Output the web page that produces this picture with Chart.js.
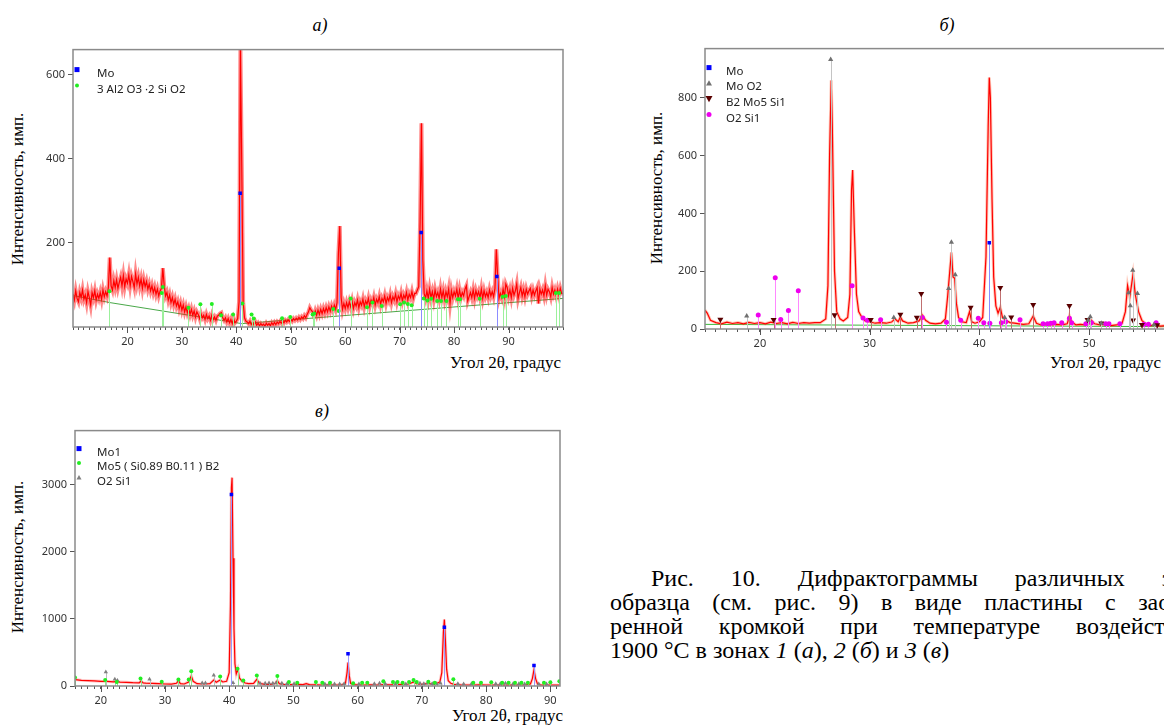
<!DOCTYPE html>
<html lang="ru">
<head>
<meta charset="utf-8">
<title>Дифрактограммы</title>
<script src="https://cdn.jsdelivr.net/npm/chart.js@4.4.1/dist/chart.umd.min.js"></script>
<style>
html, body { margin: 0; padding: 0; width: 1164px; height: 726px; overflow: hidden; background: #fff; }
canvas { position: absolute; }
.lbl { position: absolute; white-space: nowrap; color: #000; font-family: 'Liberation Serif', serif; }
.panel { font-size: 18px; font-style: italic; transform: translate(-50%, -50%); }
.ytitle { font-size: 17px; transform: translate(-50%, -50%) rotate(-90deg); }
.xtitle { font-size: 17px; transform: translate(-100%, -50%); }
.cap { position: absolute; font-family: 'Liberation Serif', serif; font-size: 24px; line-height: 24px; color: #000;
       text-align: justify; text-align-last: justify; }
</style>
</head>
<body>

<div class="lbl panel" style="left:320px; top:25px;">а)</div>
<div class="lbl panel" style="left:947px; top:25px;">б)</div>
<div class="lbl panel" style="left:322px; top:411px;">в)</div>

<div class="lbl ytitle" style="left:18px; top:189px;">Интенсивность, имп.</div>
<div class="lbl ytitle" style="left:657px; top:188px;">Интенсивность, имп.</div>
<div class="lbl ytitle" style="left:18px; top:557px;">Интенсивность, имп.</div>

<div class="lbl xtitle" style="left:561px; top:363px;">Угол 2θ, градус</div>
<div class="lbl xtitle" style="left:1161px; top:363px;">Угол 2θ, градус</div>
<div class="lbl xtitle" style="left:563px; top:716px;">Угол 2θ, градус</div>

<canvas id="chartA"></canvas>
<canvas id="chartB"></canvas>
<canvas id="chartC"></canvas>

<div class="cap" style="left:651px; top:566px; width:545px;">Рис. 10. Дифрактограммы различных зон</div>
<div class="cap" style="left:610px; top:590px; width:590px;">образца (см. рис. 9) в виде пластины с заост-</div>
<div class="cap" style="left:610px; top:614px; width:590px;">ренной кромкой при температуре воздействия</div>
<div class="cap" style="left:610px; top:638px; text-align:left; text-align-last:left;">1900 °C в зонах <i>1</i> (<i>а</i>), <i>2</i> (<i>б</i>) и <i>3</i> (<i>в</i>)</div>

<script>
// ---- а) зона 1 ----
const angleA = [
    10,10.25,10.5,10.75, 11,11.25,11.5,11.75, 12,12.25,12.5,12.75, 13,13.25,13.5,13.75,
    14,14.25,14.5,14.75, 15,15.25,15.5,15.75, 16,16.25,16.5,16.75, 17,17.25,17.5,17.75,
    18,18.25,18.5,18.75, 19,19.25,19.5,19.75, 20,20.25,20.5,20.75, 21,21.25,21.5,21.75,
    22,22.25,22.5,22.75, 23,23.25,23.5,23.75, 24,24.25,24.5,24.75, 25,25.25,25.5,25.75,
    26,26.25,26.5,26.75, 27,27.25,27.5,27.75, 28,28.25,28.5,28.75, 29,29.25,29.5,29.75,
    30,30.25,30.5,30.75, 31,31.25,31.5,31.75, 32,32.25,32.5,32.75, 33,33.25,33.5,33.75,
    34,34.25,34.5,34.75, 35,35.25,35.5,35.75, 36,36.25,36.5,36.75, 37,37.25,37.5,37.75,
    38,38.25,38.5,38.75, 39,39.25,39.5,39.75, 40,40.25,40.5,40.75, 41,41.25,41.5,41.75,
    42,42.25,42.5,42.75, 43,43.25,43.5,43.75, 44,44.25,44.5,44.75, 45,45.25,45.5,45.75,
    46,46.25,46.5,46.75, 47,47.25,47.5,47.75, 48,48.25,48.5,48.75, 49,49.25,49.5,49.75,
    50,50.25,50.5,50.75, 51,51.25,51.5,51.75, 52,52.25,52.5,52.75, 53,53.25,53.5,53.75,
    54,54.25,54.5,54.75, 55,55.25,55.5,55.75, 56,56.25,56.5,56.75, 57,57.25,57.5,57.75,
    58,58.25,58.5,58.75, 59,59.25,59.5,59.75, 60,60.25,60.5,60.75, 61,61.25,61.5,61.75,
    62,62.25,62.5,62.75, 63,63.25,63.5,63.75, 64,64.25,64.5,64.75, 65,65.25,65.5,65.75,
    66,66.25,66.5,66.75, 67,67.25,67.5,67.75, 68,68.25,68.5,68.75, 69,69.25,69.5,69.75,
    70,70.25,70.5,70.75, 71,71.25,71.5,71.75, 72,72.25,72.5,72.75, 73,73.25,73.5,73.75,
    74,74.25,74.5,74.75, 75,75.25,75.5,75.75, 76,76.25,76.5,76.75, 77,77.25,77.5,77.75,
    78,78.25,78.5,78.75, 79,79.25,79.5,79.75, 80,80.25,80.5,80.75, 81,81.25,81.5,81.75,
    82,82.25,82.5,82.75, 83,83.25,83.5,83.75, 84,84.25,84.5,84.75, 85,85.25,85.5,85.75,
    86,86.25,86.5,86.75, 87,87.25,87.5,87.75, 88,88.25,88.5,88.75, 89,89.25,89.5,89.75,
    90,90.25,90.5,90.75, 91,91.25,91.5,91.75, 92,92.25,92.5,92.75, 93,93.25,93.5,93.75,
    94,94.25,94.5,94.75, 95,95.25,95.5,95.75, 96,96.25,96.5,96.75, 97,97.25,97.5,97.75,
    98,98.25,98.5,98.75, 99,99.25,99.5,99.75, 100];
const countsA = [
    78,64,86,68, 60,82,70,88, 66,76,58,84, 70,52,82,70,
    86,64,78,68, 82,66,88,72, 84,74,94,165, 98,88,110,94,
    112,92,106,118, 98,122,96,114, 104,124,98,120, 108,94,126,102,
    118,98,114,92, 112,96,108,90, 102,86,98,82, 94,78,90,74,
    86,92,140,98, 74,82,64,76, 58,70,54,66, 50,60,44,56,
    40,52,36,48, 34,44,30,42, 28,38,24,36, 30,20,32,22,
    28,18,30,20, 26,16,28,18, 24,16,26,28, 32,34,22,16,
    22,12,20,10, 18,8,20,10, 14,20,60,660, 380,60,22,14,
    12,8,14,6, 10,5,12,4, 9,3,8,4, 7,2,9,4,
    8,3,10,5, 11,6,12,8, 13,9,15,10, 16,12,17,13,
    18,14,20,16, 21,17,23,18, 24,20,27,22, 30,36,46,40,
    36,26,38,28, 40,30,42,32, 44,34,46,36, 48,38,50,40,
    52,42,58,175, 240,70,42,56, 44,58,46,60, 48,62,44,58,
    50,64,46,60, 52,66,48,62, 54,68,50,64, 56,70,52,66,
    58,72,54,68, 60,74,56,70, 62,76,58,72, 64,78,60,74,
    66,80,62,76, 68,82,64,78, 70,84,68,80, 80,88,96,250,
    485,160,80,68, 86,68,90,70, 84,66,88,72, 82,68,90,70,
    86,66,84,72, 90,56,86,70, 84,74,90,68, 88,70,82,74,
    90,98,62,72, 82,70,88,68, 86,74,84,70, 90,68,86,72,
    82,70,88,74, 84,72,92,185, 120,68,80,70, 90,72,102,94,
    74,88,70,92, 76,86,102,68, 82,94,74,88, 72,90,78,86,
    92,74,88,76, 86,94,56,90, 78,88,74,98, 76,90,84,72,
    94,78,88,74, 90,76,92,80, 80];
const bgAngleA = [10, 16.8, 41, 100];
const bgCountsA = [75, 58, 8, 68];
const moAngleA = [40.7, 58.9, 73.95, 87.85];
const moCountsA = [318, 140, 225, 120];
const mulAngleA = [16.7,26.3,26.5,31.2,33.4,35.5,37.2,39.4,41.1,42.8,
    43.2,48.4,49.9,54.0,54.3,57.8,58.8,61.0,64.0,65.0,
    66.7,70.1,70.8,71.5,72.2,74.4,75.1,75.8,76.9,77.6,
    78.6,80.7,81.1,84.7,88.9,89.5,98.7,99.3];
const mulCountsA = [85,81,95,46,54,55,28,30,56,30,
    20,21,24,30,32,43,38,68,47,58,
    50,54,58,55,52,68,63,67,62,62,
    62,66,66,67,72,74,81,81];
const yTicksA = [200, 400, 600];

// ---- б) зона 2 ----
const angleB = [15,15.2,15.5,16,16.5,17,17.5,18,18.5,19,
    19.5,20,20.5,21,21.5,22,22.5,23,23.5,24,
    24.5,25,25.5,26,26.2,26.35,26.5,26.6,26.8,27,
    27.3,27.6,28,28.2,28.35,28.45,28.6,28.8,29,29.3,
    29.6,30,30.5,31,31.5,32,32.3,32.6,32.8,33,
    33.5,34,34.5,34.8,35.1,35.5,36,36.5,36.9,37.1,
    37.3,37.45,37.6,37.75,37.9,38.1,38.4,38.8,39.1,39.3,
    39.6,40,40.3,40.6,40.8,40.9,41,41.15,41.3,41.5,
    41.7,41.9,42.1,42.4,42.8,43.2,43.6,44,44.5,44.9,
    45.2,45.6,46,46.5,47,47.5,48,48.2,48.4,48.8,
    49.2,49.6,50,50.2,50.5,51,51.5,52,52.5,53,
    53.3,53.5,53.7,54,54.2,54.5,54.8,55.2,55.6,56,
    56.5,57];
const countsB = [65,55,30,22,18,24,19,22,18,23,
    19,22,18,24,19,22,18,23,19,22,
    20,22,22,35,150,600,860,700,200,60,
    35,28,40,120,480,550,350,120,60,40,
    28,25,20,22,20,24,35,25,42,28,
    20,22,28,48,30,20,18,20,35,110,
    200,265,180,175,90,40,25,22,60,25,
    20,25,40,250,700,870,800,450,180,80,
    55,75,40,30,22,20,18,16,18,45,
    20,14,16,14,16,14,18,45,25,14,
    16,14,18,30,18,14,16,12,14,20,
    60,150,110,190,120,60,30,16,12,14,
    10,12];
const bgAngleB = [15, 57];
const bgCountsB = [16, 8];
const moAngleB = [40.9];
const moCountsB = [298];
const moo2AngleB = [18.8,26.45,32.2,37.2,37.45,37.8,42.3,49.9,50.1,51.1,53.6,53.75,53.97,54.4,55.9];
const moo2CountsB = [45,932,40,140,300,188,40,30,42,20,125,80,203,123,15];
const b2AngleB = [16.4,21.25,26.8,30.1,32.8,34.3,34.7,39.2,41.9,42.9,44.9,48.2,49.85,51.1,54.0,54.8,56.2];
const b2CountsB = [33,32,48,32,50,40,122,74,143,41,84,80,32,20,30,15,14];
const sio2AngleB = [19.85,21.4,21.9,22.6,23.5,28.4,29.4,29.8,31.0,34.8,
    37.0,38.3,39.9,40.4,40.95,42.0,42.4,43.7,45.8,46.2,
    46.5,46.8,47.5,48.2,48.4,49.7,50.2,51.5,51.8,52.8,
    55.0,55.4,56.1];
const sio2CountsB = [48,177,33,64,132,150,38,30,32,40,
    23,30,37,22,20,22,25,32,18,18,
    20,22,22,37,22,18,22,18,18,18,
    16,16,22];
const yTicksB = [0, 200, 400, 600, 800];

// ---- в) зона 3 ----
const angleC = [16,17,18,19,20,21,22,22.5,23,24,
    25,26,26.3,26.6,27,28,29,30,31,31.8,
    32.1,32.4,33,33.7,34.1,34.4,35,36,37,37.6,
    38,38.6,39,39.6,40,40.2,40.35,40.45,40.6,40.75,
    40.9,41.1,41.35,41.6,42,42.5,43,43.8,44.3,44.7,
    45.5,46.5,47.2,47.5,47.8,48.5,49.5,50.5,51.5,52,
    52.5,53.5,54.5,55.5,56.5,57.5,58.1,58.35,58.5,58.7,
    58.9,59.3,60,61,62,63,64,65,66,67,
    68,68.7,69.2,70,71,71.5,72,72.8,73.1,73.35,
    73.5,73.65,73.85,74.1,74.5,75,76,77,78,79,
    80,81,82,83,84,85,86,86.9,87.2,87.45,
    87.7,88,88.5,89,90,91,91.5];
const countsC = [95,85,80,75,70,68,62,70,58,55,
    50,48,75,45,42,40,35,30,28,40,
    80,35,30,60,150,70,35,30,35,90,
    55,90,60,70,200,1200,2950,3100,1900,850,
    330,180,250,120,70,45,35,40,100,40,
    25,25,40,80,35,25,20,25,20,35,
    20,18,15,18,15,18,40,200,350,150,
    40,20,18,15,18,15,22,18,22,25,
    30,60,30,25,40,30,25,60,200,800,
    990,700,250,80,40,25,18,15,15,18,
    15,15,12,15,12,15,15,30,110,240,
    110,30,15,12,15,12,14];
const moAngleC = [40.35, 58.5, 73.5, 87.45];
const moCountsC = [2850, 480, 875, 305];
const mo5AngleC = [16.0,20.7,22.5,26.2,29.5,32.1,33.7,34.1,38.6,41.3,
    42.2,44.3,47.5,49.3,50.6,53.5,54.5,55.7,59.3,60.7,
    61.5,64.0,65.5,66.2,67.0,68.0,68.7,69.2,71.0,72.0,
    74.9,78.0,79.2,80.8,82.5,83.5,84.5,85.5,86.5,89.0,
    90.0,91.4];
const mo5CountsC = [125,90,60,110,65,95,95,220,140,255,
    80,155,150,60,50,60,50,50,40,50,
    50,70,60,60,50,60,90,60,65,50,
    100,50,50,55,50,50,50,50,50,50,
    55,70];
const sio2AngleC = [20.8,22.2,22.6,27.6,35.8,36.3,37.6,40.6,44.8,45.6,
    46.2,46.8,47.3,48.2,49.0,50.1,54.9,55.6,56.4,57.2,
    57.9,60.2,62.6,63.4,64.3,65.9,67.5,69.7,70.3,70.9,
    71.6,72.3,72.9,75.6,76.5,77.7,81.5,82.2,83.0,84.2,
    85.1,86.0,88.2,89.4];
const sio2CountsC = [210,100,80,100,45,45,160,50,40,40,
    45,40,45,40,35,35,30,35,30,30,
    35,30,35,40,35,35,30,40,35,40,
    35,35,40,35,30,30,35,35,40,35,
    35,30,30,30];
const yTicksC = [0, 1000, 2000, 3000];

function pts(xs, ys) {
    return xs.map((x, i) => ({ x: x, y: ys[i] }));
}

const PAD_L = 50, PAD_T = 8, PAD_R = 8, PAD_B = 24;
const tickFont = { family: "'Noto Sans', sans-serif", size: 11 };

function drawMarker(ctx, ds, x, y) {
    const r = ds.pointRadius;
    ctx.fillStyle = ds.pointBackgroundColor;
    ctx.beginPath();
    if (ds.pointStyle === 'rect') {
        ctx.rect(x - r, y - r, 2 * r, 2 * r);
    } else if (ds.pointStyle === 'triangle') {
        const s = ds.pointRotation ? -1 : 1;
        ctx.moveTo(x, y - s * r);
        ctx.lineTo(x + r, y + s * r * 0.8);
        ctx.lineTo(x - r, y + s * r * 0.8);
        ctx.closePath();
    } else {
        ctx.arc(x, y, r, 0, Math.PI * 2);
    }
    ctx.fill();
}

// vertical reference lines under each phase marker
const sticks = {
    id: 'sticks',
    beforeDatasetDraw(chart, args) {
        const ds = chart.data.datasets[args.index];
        if (!ds.stickColor) return;
        const ctx = chart.ctx, a = chart.chartArea;
        const base = chart.scales.y.getPixelForValue(0);
        ctx.save();
        ctx.beginPath();
        ctx.rect(a.left, a.top, a.right - a.left, a.bottom - a.top);
        ctx.clip();
        ctx.strokeStyle = ds.stickColor;
        ctx.lineWidth = 1;
        args.meta.data.forEach(p => {
            const px = Math.round(p.x) + 0.5;
            ctx.beginPath();
            ctx.moveTo(px, base);
            ctx.lineTo(px, p.y);
            ctx.stroke();
        });
        ctx.restore();
    }
};

// frame, long ticks every 10 degrees, phase legend
const frame = {
    id: 'frame',
    afterDraw(chart, args, opts) {
        const ctx = chart.ctx, a = chart.chartArea;
        ctx.save();
        ctx.strokeStyle = '#8a8a8a';
        ctx.lineWidth = 1.5;
        ctx.strokeRect(a.left, a.top, a.right - a.left, a.bottom - a.top);

        const xs = chart.scales.x;
        ctx.strokeStyle = '#555';
        ctx.lineWidth = 1;
        xs.ticks.forEach(t => {
            if (t.value % 10 !== 0 || t.value === xs.min || t.value === xs.max) return;
            const px = Math.round(xs.getPixelForValue(t.value)) + 0.5;
            ctx.beginPath();
            ctx.moveTo(px, a.bottom);
            ctx.lineTo(px, a.bottom + 6);
            ctx.stroke();
        });

        let y = a.top + opts.top;
        ctx.font = "11.5px 'Noto Sans', sans-serif";
        ctx.textBaseline = 'middle';
        chart.data.datasets.forEach(ds => {
            if (!ds.legendText) return;
            drawMarker(ctx, ds, a.left + 4, y - 4);
            ctx.fillStyle = '#222';
            ctx.fillText(ds.legendText, a.left + opts.textX, y);
            y += opts.gap;
        });
        ctx.restore();
    }
};

function makeChart(id, box, setup) {
    const cv = document.getElementById(id);
    cv.style.left = (box.left - PAD_L) + 'px';
    cv.style.top = (box.top - PAD_T) + 'px';
    cv.width = box.right - box.left + PAD_L + PAD_R;
    cv.height = box.bottom - box.top + PAD_T + PAD_B;

    return new Chart(cv.getContext('2d'), {
        type: 'line',
        data: { datasets: setup.datasets },
        plugins: [sticks, frame],
        options: {
            responsive: false,
            animation: false,
            devicePixelRatio: 1,
            events: [],
            layout: { padding: { left: 0, top: PAD_T, right: PAD_R, bottom: 0 } },
            elements: { line: { tension: 0 } },
            plugins: {
                legend: { display: false },
                tooltip: { enabled: false },
                frame: setup.legend
            },
            scales: {
                x: {
                    type: 'linear',
                    bounds: 'data',
                    min: setup.xMin,
                    max: setup.xMax,
                    afterFit: s => { s.height = PAD_B; },
                    border: { display: false },
                    grid: {
                        drawOnChartArea: false,
                        tickLength: 3,
                        tickColor: c => Number.isInteger(c.tick.value) ? '#555' : 'rgba(0,0,0,0)'
                    },
                    ticks: {
                        stepSize: 1,
                        autoSkip: false,
                        includeBounds: false,
                        maxRotation: 0,
                        padding: 5,
                        font: tickFont,
                        color: '#333',
                        callback: (v, i, t) => (v % 10 === 0 && i > 0 && i < t.length - 1) ? v : ''
                    }
                },
                y: {
                    min: 0,
                    max: setup.yMax,
                    afterFit: s => { s.width = PAD_L; },
                    afterBuildTicks: s => { s.ticks = setup.yTicks.map(v => ({ value: v })); },
                    border: { display: false },
                    grid: { drawOnChartArea: false, tickLength: 5, color: '#555' },
                    ticks: {
                        autoSkip: false,
                        padding: 3,
                        font: tickFont,
                        color: '#333',
                        callback: v => v
                    }
                }
            }
        }
    });
}

function phase(label, xs, ys, style, color, size, stick, rot) {
    return {
        legendText: label,
        data: pts(xs, ys),
        showLine: false,
        pointStyle: style,
        pointRadius: size,
        pointRotation: rot || 0,
        pointBackgroundColor: color,
        pointBorderWidth: 0,
        borderColor: color,
        stickColor: stick
    };
}

function profile(xs, ys, band, bandWidth) {
    return [
        { data: pts(xs, ys), borderColor: '#ff0000', borderWidth: 1.2, pointRadius: 0 },
        { data: pts(xs, ys), borderColor: band, borderWidth: bandWidth, pointRadius: 0 }
    ];
}

makeChart('chartA', { left: 73, right: 563, top: 48, bottom: 327 }, {
    xMin: 10, xMax: 100, yMax: 660, yTicks: yTicksA,
    legend: { top: 24, gap: 16, textX: 24 },
    datasets: [
        phase('Mo', moAngleA, moCountsA, 'rect', '#0000ff', 2.5, '#8c8cff'),
        phase('3 Al2 O3 ·2 Si O2', mulAngleA, mulCountsA, 'circle', '#22ee22', 2, '#9cf09c'),
        ...profile(angleA, countsA, 'rgba(255,20,20,0.5)', 4),
        { data: pts(bgAngleA, bgCountsA), borderColor: '#4aa84a', borderWidth: 1, pointRadius: 0 }
    ]
});

makeChart('chartB', { left: 705, right: 1166, top: 47, bottom: 329 }, {
    xMin: 15, xMax: 57, yMax: 970, yTicks: yTicksB,
    legend: { top: 23, gap: 15.6, textX: 21 },
    datasets: [
        phase('Mo', moAngleB, moCountsB, 'rect', '#0000ff', 2.5, '#8c8cff'),
        phase('Mo O2', moo2AngleB, moo2CountsB, 'triangle', '#707070', 3, '#c4c4c4'),
        phase('B2 Mo5 Si1', b2AngleB, b2CountsB, 'triangle', '#5a0000', 3.5, '#c07070', 180),
        phase('O2 Si1', sio2AngleB, sio2CountsB, 'circle', '#ee00ee', 2.5, '#ff88ff'),
        ...profile(angleB, countsB, 'rgba(255,110,70,0.4)', 3),
        { data: pts(bgAngleB, bgCountsB), borderColor: '#3cb83c', borderWidth: 1, pointRadius: 0 }
    ]
});

makeChart('chartC', { left: 75, right: 560, top: 429, bottom: 686 }, {
    xMin: 16, xMax: 91.5, yMax: 3800, yTicks: yTicksC,
    legend: { top: 22, gap: 14.5, textX: 22 },
    datasets: [
        phase('Mo1', moAngleC, moCountsC, 'rect', '#0000ff', 2.5, '#9a9aff'),
        phase('Mo5 ( Si0.89 B0.11 ) B2', mo5AngleC, mo5CountsC, 'circle', '#22ee22', 2, '#90e890'),
        phase('O2 Si1', sio2AngleC, sio2CountsC, 'triangle', '#808080', 2.5, '#bdbdbd'),
        ...profile(angleC, countsC, 'rgba(255,100,100,0.35)', 3)
    ]
});
</script>
</body>
</html>
